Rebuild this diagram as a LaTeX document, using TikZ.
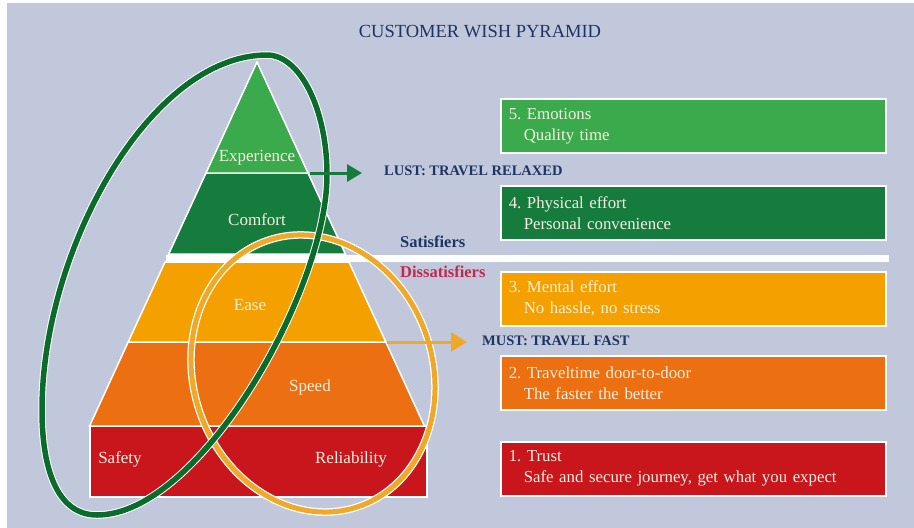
\documentclass[tikz,border=0pt]{standalone}
\usepackage{fontspec}
\setmainfont{Liberation Serif}
\usetikzlibrary{arrows.meta}
\definecolor{bg}{HTML}{C2C8DC}
\definecolor{navy}{HTML}{1E3462}
\definecolor{dissred}{HTML}{C02A4C}
\definecolor{lgreen}{HTML}{3AAA4C}
\definecolor{dgreen}{HTML}{167C3E}
\definecolor{yorange}{HTML}{F4A100}
\definecolor{orng}{HTML}{EC6F12}
\definecolor{rred}{HTML}{C8161C}
\definecolor{cream}{HTML}{F7EFDF}
\definecolor{ringgreen}{HTML}{0B6B2B}
\definecolor{ringorange}{HTML}{F0A828}
\tikzset{
  band/.style={draw=white, line width=1.5pt, line join=miter},
  pyrtext/.style={text=cream, font=\fontsize{17}{19}\selectfont, inner sep=0pt},
  infobox/.style={draw=white, line width=1.5pt, anchor=north west, minimum width=385pt, minimum height=54pt,
     text width=369pt, align=left, inner xsep=8pt, inner ysep=0pt, text=cream, font=\fontsize{16.8}{21}\selectfont},
  caplabel/.style={text=navy, font=\bfseries\fontsize{14.5}{16}\selectfont, inner sep=0pt, anchor=west},
  sidelabel/.style={font=\bfseries\fontsize{16.5}{18}\selectfont, inner sep=0pt, anchor=west},
  greenarrow/.style={draw=dgreen, line width=3pt, -{Triangle[length=15pt,width=17pt]}},
  orangearrow/.style={draw=ringorange, line width=3pt, -{Triangle[length=16pt,width=19pt]}},
  ringunder/.style={draw=white, line width=7.5pt},
}
\frenchspacing
\begin{document}
\begin{tikzpicture}[x=1pt,y=-1pt]
\useasboundingbox (0,0) rectangle (914,528);
\fill[white] (0,0) rectangle (914,528);
\fill[bg] (7,3) rectangle (914,528);

% title
\node[text=navy, font=\fontsize{18.5}{20}\selectfont, inner sep=0pt] (title) at (480,32) {CUSTOMER WISH PYRAMID};

% pyramid bands
\filldraw[band, fill=rred] (90,426) rectangle (427,497);
\filldraw[band, fill=orng] (128.2,342) -- (385.8,342) -- (424.4,426) -- (89.6,426) -- cycle;
\filldraw[band, fill=yorange] (165,262) -- (349,262) -- (385.8,342) -- (128.2,342) -- cycle;
\filldraw[band, fill=dgreen] (206,173) -- (308,173) -- (345.3,254) -- (168.7,254) -- cycle;
\filldraw[band, fill=lgreen] (257,62) -- (308,173) -- (206,173) -- cycle;
\fill[white] (166,254.5) rectangle (889,262);

\node[pyrtext] (experience) at (257,158) {Experience};
\node[pyrtext] (comfort) at (257,220) {Comfort};
\node[pyrtext] (ease) at (250,305) {Ease};
\node[pyrtext] (speed) at (310,387) {Speed};
\node[pyrtext] (safety) at (120,459) {Safety};
\node[pyrtext] (reliability) at (351,459) {Reliability};

% rings
\draw[ringunder] (313,373.5) ellipse [x radius=140.6pt, y radius=119.6pt, rotate=109];
\draw[ringorange, line width=5pt] (313,373.5) ellipse [x radius=140.6pt, y radius=119.6pt, rotate=109];
\def\greenring{(267,55) .. controls (300,55) and (327,109) .. (327,175)
  .. controls (327,290) and (200,515) .. (97,515)
  .. controls (60,515) and (42,475) .. (42,410)
  .. controls (42,250) and (150,55) .. (267,55)}
\draw[ringunder] \greenring;
\draw[ringgreen, line width=5.5pt] \greenring;

% labels and arrows
\node[caplabel] (lust) at (384,171) {LUST: TRAVEL RELAXED};
\node[caplabel] (must) at (482,341) {MUST: TRAVEL FAST};
\coordinate (expcorner) at (310,173);
\coordinate (easecorner) at (387,342);
\draw[greenarrow, shorten >=22pt] (expcorner) -- (lust.west |- expcorner);
\draw[orangearrow, shorten >=15pt] (easecorner) -- (must.west |- easecorner);

\node[sidelabel, text=navy] (satisfiers) at (400,242) {Satisfiers};
\node[sidelabel, text=dissred] (dissatisfiers) at (400,272) {Dissatisfiers};

% boxes
\node[infobox, fill=lgreen] (box5) at (500,98) {5. Emotions\\\hspace*{15pt}Quality time};
\node[infobox, fill=dgreen] (box4) at (500,185) {4. Physical effort\\\hspace*{15pt}Personal convenience};
\node[infobox, fill=yorange] (box3) at (500,271) {3. Mental effort\\\hspace*{15pt}No hassle, no stress};
\node[infobox, fill=orng] (box2) at (500,355) {2. Traveltime door-to-door\\\hspace*{15pt}The faster the better};
\node[infobox, fill=rred] (box1) at (500,441) {1. Trust\\\hspace*{15pt}Safe and secure journey, get what you expect};
\end{tikzpicture}
\end{document}
